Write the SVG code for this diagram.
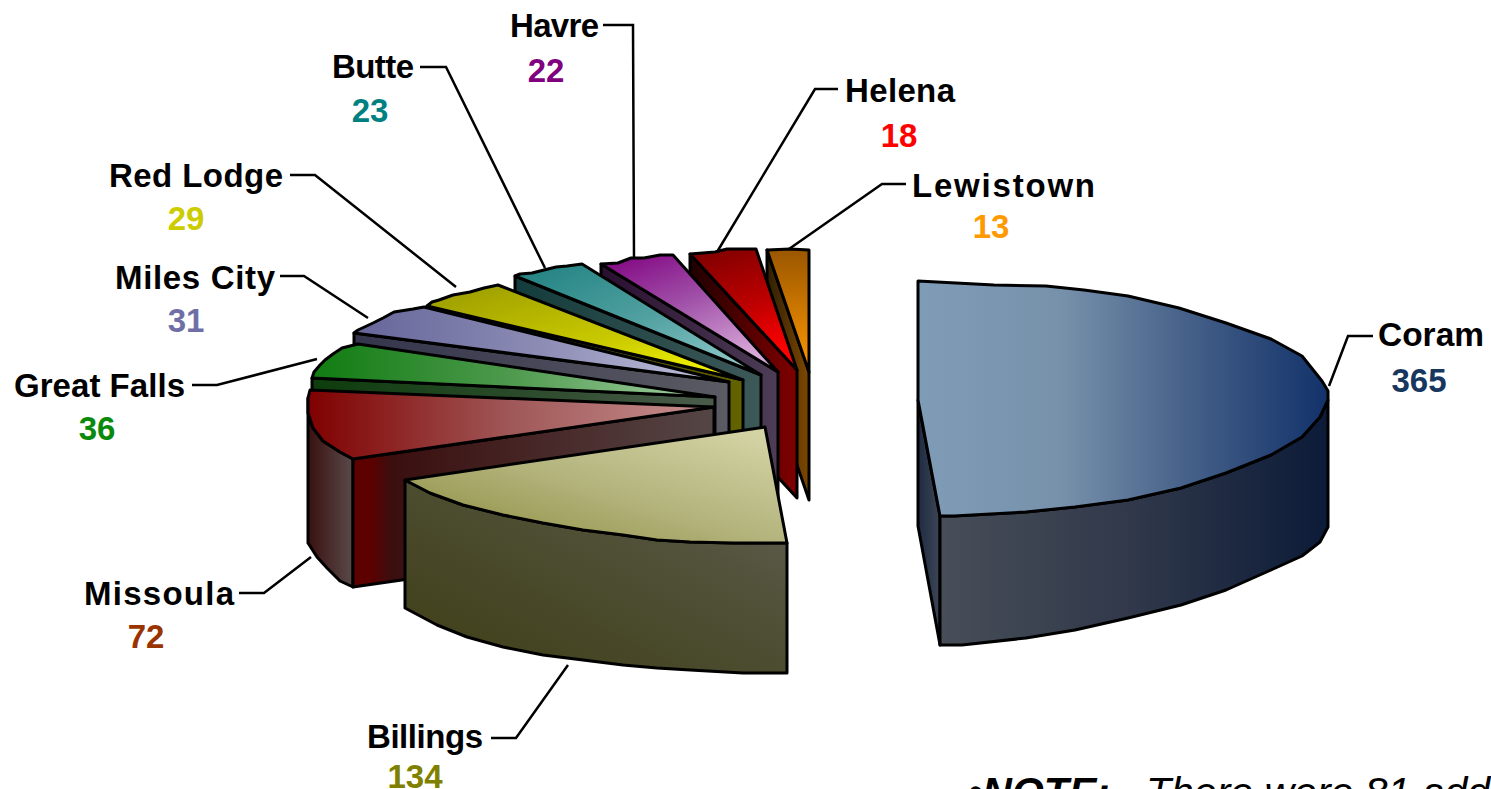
<svg xmlns="http://www.w3.org/2000/svg" width="1491" height="789" viewBox="0 0 1491 789">
<style>
.e{stroke:#000;stroke-width:3;stroke-linejoin:round}
.lbl{font-family:"Liberation Sans",Arial,sans-serif;font-weight:bold;font-size:33px;fill:#000}
.num{font-family:"Liberation Sans",Arial,sans-serif;font-weight:bold;font-size:33px;text-anchor:middle}
.lead{fill:none;stroke:#000;stroke-width:2.5;stroke-linejoin:miter}
.note{font-family:"Liberation Sans",Arial,sans-serif;font-size:41px;font-style:italic;fill:#000}
</style>
<defs>
<linearGradient id="coramTop" x1="0" y1="0" x2="1" y2="0"><stop offset="0" stop-color="#7f9cb6"/><stop offset="0.35" stop-color="#7791ab"/><stop offset="0.7" stop-color="#3f5a84"/><stop offset="1" stop-color="#12326a"/></linearGradient>
<linearGradient id="coramSide" x1="0" y1="0" x2="1" y2="0"><stop offset="0" stop-color="#474e58"/><stop offset="0.5" stop-color="#30384a"/><stop offset="1" stop-color="#0c1b38"/></linearGradient>
<linearGradient id="coramLeft" x1="0" y1="0" x2="1" y2="0"><stop offset="0" stop-color="#1f2b42"/><stop offset="1" stop-color="#3d4656"/></linearGradient>
<linearGradient id="billTop" x1="0" y1="1" x2="1" y2="0"><stop offset="0" stop-color="#8a8a3a"/><stop offset="0.5" stop-color="#b4b47e"/><stop offset="1" stop-color="#d8d8aa"/></linearGradient>
<linearGradient id="billSide" x1="0" y1="1" x2="1" y2="0"><stop offset="0" stop-color="#3e3e16"/><stop offset="0.5" stop-color="#4c4c30"/><stop offset="1" stop-color="#5e5e50"/></linearGradient>
<linearGradient id="mTop" x1="0" y1="0" x2="1" y2="0"><stop offset="0" stop-color="#800000"/><stop offset="0.5" stop-color="#a05858"/><stop offset="1" stop-color="#c89090"/></linearGradient>
<linearGradient id="mFront" x1="0" y1="0" x2="1" y2="0"><stop offset="0" stop-color="#5c0000"/><stop offset="0.05" stop-color="#5c0000"/><stop offset="0.11" stop-color="#3a0f0f"/><stop offset="0.6" stop-color="#4a2c2c"/><stop offset="1" stop-color="#554646"/></linearGradient>
<linearGradient id="mSide" x1="0" y1="0" x2="1" y2="0"><stop offset="0" stop-color="#3a1010"/><stop offset="1" stop-color="#5a4a4a"/></linearGradient>
<linearGradient id="gfTop" x1="0" y1="0" x2="1" y2="0"><stop offset="0" stop-color="#107c10"/><stop offset="0.5" stop-color="#4f9a4f"/><stop offset="1" stop-color="#a8d4a8"/></linearGradient>
<linearGradient id="gfFront" x1="0" y1="0" x2="1" y2="0"><stop offset="0" stop-color="#0d3d0d"/><stop offset="0.5" stop-color="#2a4a2a"/><stop offset="1" stop-color="#4b5b4b"/></linearGradient>
<linearGradient id="mcTop" x1="0" y1="0" x2="1" y2="0"><stop offset="0" stop-color="#65659a"/><stop offset="0.5" stop-color="#8c8cb5"/><stop offset="1" stop-color="#c4c4de"/></linearGradient>
<linearGradient id="mcFront" x1="0" y1="0" x2="1" y2="0"><stop offset="0" stop-color="#34344c"/><stop offset="1" stop-color="#5b5b64"/></linearGradient>
<linearGradient id="rlTop" x1="0" y1="0" x2="1" y2="1"><stop offset="0" stop-color="#999900"/><stop offset="0.6" stop-color="#cccc00"/><stop offset="1" stop-color="#ffff00"/></linearGradient>
<linearGradient id="rlFront" x1="0" y1="0" x2="1" y2="0"><stop offset="0" stop-color="#2e2e00"/><stop offset="1" stop-color="#636300"/></linearGradient>
<linearGradient id="bTop" x1="0" y1="0" x2="1" y2="1"><stop offset="0" stop-color="#1f8080"/><stop offset="0.5" stop-color="#50a0a0"/><stop offset="1" stop-color="#9ad0d0"/></linearGradient>
<linearGradient id="bFront" x1="0" y1="0" x2="1" y2="0"><stop offset="0" stop-color="#143c3c"/><stop offset="1" stop-color="#3e5858"/></linearGradient>
<linearGradient id="hvTop" x1="0" y1="0" x2="0.6" y2="1"><stop offset="0" stop-color="#800080"/><stop offset="0.5" stop-color="#a050a8"/><stop offset="1" stop-color="#d8a8d8"/></linearGradient>
<linearGradient id="hvFront" x1="0" y1="0" x2="1" y2="0"><stop offset="0" stop-color="#2a0f30"/><stop offset="1" stop-color="#4d3d56"/></linearGradient>
<linearGradient id="heTop" x1="0" y1="0" x2="0.3" y2="1"><stop offset="0" stop-color="#7a0000"/><stop offset="0.6" stop-color="#c00000"/><stop offset="1" stop-color="#ff0000"/></linearGradient>
<linearGradient id="heFront" x1="0" y1="0" x2="1" y2="0"><stop offset="0" stop-color="#200000"/><stop offset="1" stop-color="#800000"/></linearGradient>
<linearGradient id="lwTop" x1="0" y1="0" x2="0" y2="1"><stop offset="0" stop-color="#9a5600"/><stop offset="1" stop-color="#ff9900"/></linearGradient>
<linearGradient id="lwFront" x1="0" y1="0" x2="1" y2="0"><stop offset="0" stop-color="#2e1e05"/><stop offset="1" stop-color="#7e4800"/></linearGradient>
</defs>
<rect width="1491" height="789" fill="#fff"/>

<g id="coram">
<polygon class="e" fill="url(#coramLeft)" points="918,400 940,516 940,645 918,526"/>
<polygon class="e" fill="url(#coramSide)" points="940,516 954,516 1026,512 1075,507 1128,500 1181,488 1226,473 1271,455 1302,437 1320,417 1328,400 1328,527 1320,542 1302,556 1271,570 1226,590 1181,605 1128,618 1075,630 1026,638 962,645 940,645"/>
<polygon class="e" fill="url(#coramTop)" points="918,281 994,285 1046,286 1084,290 1128,296 1179,308 1226,323 1271,339 1302,356 1322,381 1328,391 1328,400 1320,417 1302,437 1271,455 1226,473 1181,488 1128,500 1075,507 1026,512 954,516 940,516 918,400"/>
<text class="lbl" x="1378" y="346" textLength="106" lengthAdjust="spacingAndGlyphs">Coram</text>
<text class="num" x="1419" y="392" fill="#17375e">365</text>
</g>

<g id="lewistown">
<polygon class="e" fill="url(#lwFront)" points="767,250 809,372 809,500 767,378"/>
<polygon class="e" fill="url(#lwTop)" points="767,250 790,249 809,250 809,372"/>
<text class="lbl" x="912" y="197" textLength="183" lengthAdjust="spacing">Lewistown</text>
<text class="num" x="991" y="238" fill="#ff9900">13</text>
</g>

<g id="helena">
<polygon class="e" fill="url(#heFront)" points="690,254 797,370 797,498 690,382"/>
<polygon class="e" fill="url(#heTop)" points="690,254 715,252 727,249 745,249 756,249 797,370"/>
<text class="lbl" x="845" y="102" textLength="110" lengthAdjust="spacing">Helena</text>
<text class="num" x="899" y="147" fill="#ff0000">18</text>
</g>

<g id="havre">
<polygon class="e" fill="url(#hvFront)" points="601,264 778,372 778,500 601,392"/>
<polygon class="e" fill="url(#hvTop)" points="601,264 618,263 631,258 644,258 660,255 673,255 778,372"/>
<text class="lbl" x="510" y="37" textLength="89" lengthAdjust="spacing">Havre</text>
<text class="num" x="546" y="82" fill="#800080">22</text>
</g>

<g id="butte">
<polygon class="e" fill="url(#bFront)" points="515,276 761,375 761,503 515,404"/>
<polygon class="e" fill="url(#bTop)" points="515,276 520,274 532,273 544,270 556,267 567,266 582,264 761,375"/>
<text class="lbl" x="332" y="78" textLength="82" lengthAdjust="spacing">Butte</text>
<text class="num" x="370" y="122" fill="#008080">23</text>
</g>

<g id="red-lodge">
<polygon class="e" fill="url(#rlFront)" points="427,306 743,380 743,508 427,434"/>
<polygon class="e" fill="url(#rlTop)" points="427,306 432,302 439,300 453,295 470,292 484,288 498,285 743,380"/>
<text class="lbl" x="109" y="187" textLength="174" lengthAdjust="spacing">Red Lodge</text>
<text class="num" x="186" y="230" fill="#cccc00">29</text>
</g>

<g id="miles-city">
<polygon class="e" fill="url(#mcFront)" points="354,333 729,382 729,510 354,461"/>
<polygon class="e" fill="url(#mcTop)" points="354,333 358,330 373,323 383,318 394,312 413,309 424,307 729,382"/>
<text class="lbl" x="115" y="289" textLength="160" lengthAdjust="spacing">Miles City</text>
<text class="num" x="186" y="332" fill="#6f6fa6">31</text>
</g>

<g id="great-falls">
<polygon class="e" fill="url(#gfFront)" points="312,378 715,397 715,525 312,506"/>
<polygon class="e" fill="url(#gfTop)" points="312,378 314,372 320,365 325,360 333,354 342,348 358,344 715,397"/>
<text class="lbl" x="14" y="397" textLength="171" lengthAdjust="spacing">Great Falls</text>
<text class="num" x="97" y="440" fill="#0a8a0a">36</text>
</g>

<g id="missoula">
<polygon class="e" fill="url(#mSide)" points="308,398 308,417 313,428 323,441 340,452 353,459 353,587 340,581 327,568 317,557 308,543"/>
<polygon class="e" fill="url(#mFront)" points="353,459 714,407 714,535 353,587"/>
<polygon class="e" fill="url(#mTop)" points="310,390 714,407 353,459 340,452 323,441 313,428 308,413 308,398"/>
<text class="lbl" x="84" y="605" textLength="150" lengthAdjust="spacing">Missoula</text>
<text class="num" x="146" y="648" fill="#993300">72</text>
</g>

<g id="billings">
<polygon class="e" fill="url(#billSide)" points="405,480 430,493 463,505 503,515 543,523 583,530 623,535 657,540 690,542 733,543 787,543 787,673 743,673 690,670 657,668 623,665 583,660 543,655 503,647 467,637 437,625 405,608"/>
<polygon class="e" fill="url(#billTop)" points="405,480 765,427 787,543 733,543 690,542 657,540 623,535 583,530 543,523 503,515 463,505 430,493"/>
<text class="lbl" x="367" y="748" textLength="116" lengthAdjust="spacing">Billings</text>
<text class="num" x="415" y="788" fill="#808000">134</text>
</g>

<g id="connectors">
<polyline class="lead" points="603,25 633,25 634,259"/>
<polyline class="lead" points="420,67 446,67 545,268"/>
<polyline class="lead" points="290,175 315,175 456,287"/>
<polyline class="lead" points="280,276 304,276 368,318"/>
<polyline class="lead" points="192,385 217,385 317,359"/>
<polyline class="lead" points="239,593 264,593 311,557"/>
<polyline class="lead" points="491,738 516,738 568,665"/>
<polyline class="lead" points="838,89 815,89 717,252"/>
<polyline class="lead" points="906,184 882,184 789,249"/>
<polyline class="lead" points="1373,336 1348,336 1329,386"/>
</g>

<text class="note" y="806"><tspan x="968" font-weight="bold">•NOTE:</tspan><tspan x="1146">There were 81 add</tspan></text>
</svg>
